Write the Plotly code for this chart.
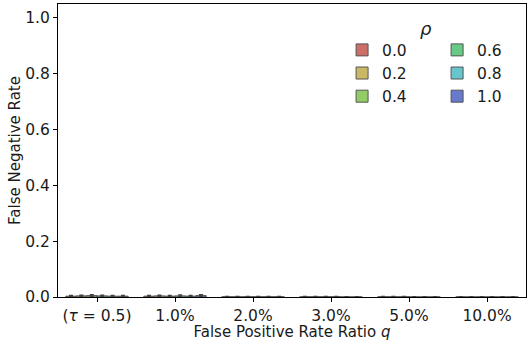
import plotly.graph_objects as go

categories = ["(<i>τ</i> = 0.5)", "1.0%", "2.0%", "3.0%", "5.0%", "10.0%"]
rho_labels = ["0.0", "0.2", "0.4", "0.6", "0.8", "1.0"]
colors = ["#cb6f67", "#cbb867", "#93cb67", "#67cb86", "#67c5cb", "#677acb"]

# false negative rate per rho (rows) for each category (columns)
fnr = [
    [0.003, 0.003, 0.001, 0.001, 0.001, 0.0005],
    [0.004, 0.004, 0.001, 0.001, 0.001, 0.0005],
    [0.005, 0.003, 0.001, 0.001, 0.001, 0.0005],
    [0.004, 0.004, 0.001, 0.001, 0.0005, 0.0005],
    [0.003, 0.003, 0.001, 0.0005, 0.0005, 0.0005],
    [0.003, 0.005, 0.001, 0.0005, 0.0005, 0.0005],
]
err = [
    [0.002, 0.002, 0.001, 0.001, 0.001, 0.0005],
    [0.002, 0.002, 0.001, 0.001, 0.001, 0.0005],
    [0.003, 0.002, 0.001, 0.001, 0.001, 0.0005],
    [0.002, 0.003, 0.001, 0.001, 0.0005, 0.0005],
    [0.002, 0.002, 0.001, 0.0005, 0.0005, 0.0005],
    [0.002, 0.003, 0.001, 0.0005, 0.0005, 0.0005],
]

font = "DejaVu Sans"
fig = go.Figure()
for i, lab in enumerate(rho_labels):
    fig.add_trace(go.Bar(
        x=categories, y=fnr[i], name=lab,
        marker=dict(color=colors[i], line=dict(color="#555555", width=1)),
        error_y=dict(type="data", array=err[i], color="#424242", thickness=1.5, width=2),
        legend="legend" if i < 3 else "legend2",
    ))

legend_common = dict(
    bgcolor="rgba(0,0,0,0)", font=dict(family=font, size=15.5, color="#1a1a1a"),
    yanchor="top", xanchor="left", itemwidth=30, tracegroupgap=0,
)
fig.update_layout(
    width=527, height=341,
    margin=dict(l=58, r=1, t=4, b=44, autoexpand=False),
    paper_bgcolor="white", plot_bgcolor="white",
    font=dict(family=font, size=15, color="#1a1a1a"),
    barmode="group", bargap=0.2, bargroupgap=0,
    legend=dict(x=0.607, y=0.9, **legend_common),
    legend2=dict(x=0.81, y=0.9, **legend_common),
    xaxis=dict(
        range=[-0.5, 5.5], showline=True, linecolor="black", linewidth=1, mirror=True,
        ticks="outside", ticklen=4, tickcolor="black", tickfont=dict(size=15.5),
        title=dict(text="False Positive Rate Ratio <i>q</i>", font=dict(size=15), standoff=1),
        showgrid=False, automargin=False,
    ),
    yaxis=dict(
        range=[0, 1.05], showline=True, linecolor="black", linewidth=1, mirror=True,
        ticks="outside", ticklen=4, tickcolor="black", tickfont=dict(size=15.5),
        tickvals=[0, 0.2, 0.4, 0.6, 0.8, 1.0], tickformat=".1f",
        title=dict(text="False Negative Rate", font=dict(size=15), standoff=0),
        showgrid=False, zeroline=False, automargin=False,
    ),
    annotations=[dict(text="<i>ρ</i>", x=0.804, y=0.959, xref="paper", yref="paper",
                      showarrow=False, font=dict(family=font, size=18, color="#1a1a1a"))],
)
fig.write_html("out.html", config={"displayModeBar": False},
               post_script="document.body.style.margin='0';document.body.style.padding='0';")
